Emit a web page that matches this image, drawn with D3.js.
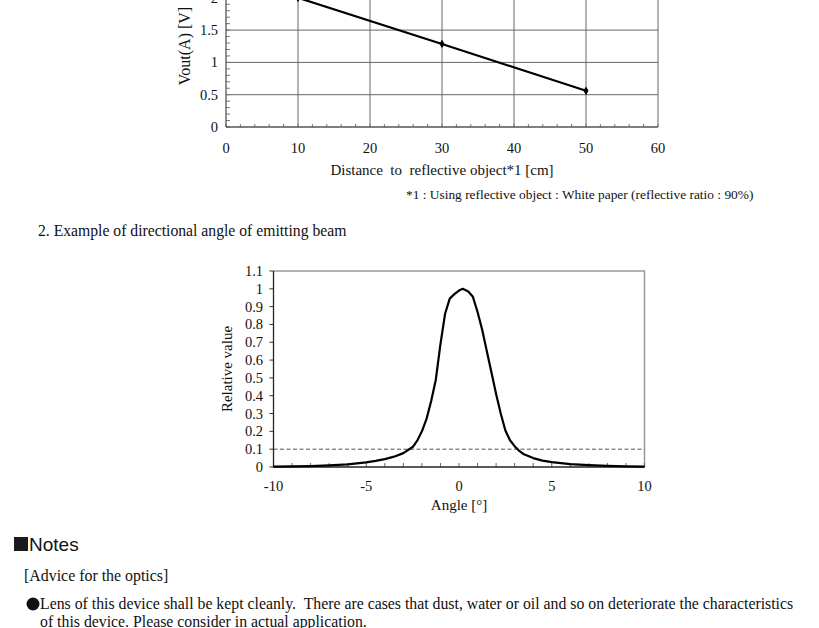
<!DOCTYPE html>
<html><head><meta charset="utf-8">
<script src="https://cdn.jsdelivr.net/npm/d3@7"></script>
<style>
html,body{margin:0;padding:0;background:#fff;}
svg{display:block;}
text{font-family:"Liberation Serif","Times New Roman",serif;fill:#111;}
</style></head>
<body>
<svg id="c" width="819" height="628"></svg>
<script>
// ---- Chart 1 data: distance vs Vout(A)
const distance = [10, 30, 50];
const vout = [2.0, 1.285, 0.56];
const distTicks = [0, 10, 20, 30, 40, 50, 60];
const voutTicks = [0, 0.5, 1, 1.5, 2];
const voutTickLabels = ["0", "0.5", "1", "1.5", "2"];

// ---- Chart 2 data: angle vs relative value
const angle = [-10, -9, -8, -7, -6, -5, -4.5, -4, -3.5, -3, -2.5, -2.25, -2, -1.75, -1.5, -1.25, -1, -0.75, -0.5, -0.25, 0, 0.2, 0.5, 0.75, 1, 1.25, 1.5, 1.75, 2, 2.25, 2.5, 2.75, 3, 3.25, 3.5, 4, 4.5, 5, 6, 7, 8, 9, 10];
const relValue = [0.002, 0.003, 0.005, 0.009, 0.015, 0.026, 0.034, 0.044, 0.058, 0.078, 0.112, 0.148, 0.2, 0.27, 0.37, 0.49, 0.69, 0.86, 0.945, 0.97, 0.99, 1.0, 0.985, 0.955, 0.87, 0.77, 0.65, 0.53, 0.41, 0.3, 0.205, 0.15, 0.117, 0.09, 0.071, 0.05, 0.036, 0.027, 0.016, 0.01, 0.006, 0.004, 0.002];
const angleTicks = [-10, -5, 0, 5, 10];
const relTicks = [0, 0.1, 0.2, 0.3, 0.4, 0.5, 0.6, 0.7, 0.8, 0.9, 1, 1.1];
const threshold = 0.1;

const svg = d3.select("#c");

// ================= Chart 1 =================
{
  const x = d3.scaleLinear().domain([0, 60]).range([226, 658]);
  const y = d3.scaleLinear().domain([0, 0.5]).range([127, 94.7]);
  const g = svg.append("g");
  const top = y(2.6);
  g.selectAll(".vg").data(distTicks.filter(d => d > 0)).enter().append("line")
    .attr("x1", d => x(d)).attr("x2", d => x(d)).attr("y1", top).attr("y2", y(0))
    .attr("stroke", "#666").attr("stroke-width", 1);
  g.selectAll(".hg").data(voutTicks.filter(d => d > 0)).enter().append("line")
    .attr("x1", x(0)).attr("x2", x(60)).attr("y1", d => y(d)).attr("y2", d => y(d))
    .attr("stroke", "#666").attr("stroke-width", 1);
  g.selectAll(".mx").data(d3.range(0, 61, 2)).enter().append("line")
    .attr("x1", d => x(d)).attr("x2", d => x(d)).attr("y1", y(0)).attr("y2", y(0) - 3)
    .attr("stroke", "#777").attr("stroke-width", 1);
  g.selectAll(".my").data(d3.range(0, 26).map(i => i / 10)).enter().append("line")
    .attr("x1", x(0)).attr("x2", x(0) + 4).attr("y1", d => y(d)).attr("y2", d => y(d))
    .attr("stroke", "#777").attr("stroke-width", 1);
  g.append("line").attr("x1", x(0)).attr("x2", x(60)).attr("y1", y(0)).attr("y2", y(0))
    .attr("stroke", "#555").attr("stroke-width", 1.3);
  g.append("line").attr("x1", x(0)).attr("x2", x(0)).attr("y1", top).attr("y2", y(0))
    .attr("stroke", "#555").attr("stroke-width", 1.3);
  g.selectAll(".xl").data(distTicks).enter().append("text")
    .attr("x", d => x(d)).attr("y", 153).attr("text-anchor", "middle")
    .style("font-size", "14.5px").text(d => d);
  g.selectAll(".yl").data(voutTicks).enter().append("text")
    .attr("x", 218).attr("y", d => y(d) + 5).attr("text-anchor", "end")
    .style("font-size", "14.5px").text((d, i) => voutTickLabels[i]);
  const pts = distance.map((d, i) => [d, vout[i]]);
  g.append("path").datum(pts)
    .attr("d", d3.line().x(d => x(d[0])).y(d => y(d[1])))
    .attr("fill", "none").attr("stroke", "#000").attr("stroke-width", 2.2);
  g.selectAll(".pt").data(pts).enter().append("path")
    .attr("d", d3.symbol(d3.symbolDiamond, 22))
    .attr("transform", d => `translate(${x(d[0])},${y(d[1])})`)
    .attr("fill", "#000");
  g.append("text").attr("transform", "translate(190,46) rotate(-90)")
    .attr("text-anchor", "middle").style("font-size", "16px").text("Vout(A) [V]");
  g.append("text").attr("x", 442).attr("y", 175).attr("text-anchor", "middle")
    .style("font-size", "15px").style("white-space", "pre")
    .text("Distance  to  reflective object*1 [cm]");
  g.append("text").attr("x", 406).attr("y", 199)
    .style("font-size", "13.4px").text("*1 : Using reflective object : White paper (reflective ratio : 90%)");
}

svg.append("text").attr("x", 38).attr("y", 236).style("font-size", "15.7px")
  .text("2. Example of directional angle of emitting beam");

// ================= Chart 2 =================
{
  const x = d3.scaleLinear().domain([-10, 10]).range([273.5, 644.5]);
  const y = d3.scaleLinear().domain([0, 1.1]).range([467, 271]);
  const g = svg.append("g");
  g.append("path")
    .attr("d", `M${x(-10)},${y(1.1)}H${x(10)}V${y(0)}`)
    .attr("fill", "none").attr("stroke", "#999").attr("stroke-width", 1.5);
  g.append("line").attr("x1", x(-10)).attr("x2", x(10)).attr("y1", y(threshold)).attr("y2", y(threshold))
    .attr("stroke", "#555").attr("stroke-width", 1).attr("stroke-dasharray", "4,2.5");
  g.selectAll(".mx").data(d3.range(-10, 11, 1)).enter().append("line")
    .attr("x1", d => x(d)).attr("x2", d => x(d)).attr("y1", y(0)).attr("y2", y(0) - 4)
    .attr("stroke", "#666").attr("stroke-width", 1);
  g.selectAll(".yt").data(relTicks).enter().append("line")
    .attr("x1", x(-10) - 4).attr("x2", x(-10)).attr("y1", d => y(d)).attr("y2", d => y(d))
    .attr("stroke", "#333").attr("stroke-width", 1);
  g.append("line").attr("x1", x(-10)).attr("x2", x(-10)).attr("y1", y(1.1)).attr("y2", y(0))
    .attr("stroke", "#222").attr("stroke-width", 1.3);
  g.append("line").attr("x1", x(-10)).attr("x2", x(10)).attr("y1", y(0)).attr("y2", y(0))
    .attr("stroke", "#222").attr("stroke-width", 1.5);
  g.selectAll(".yl").data(relTicks).enter().append("text")
    .attr("x", 263).attr("y", d => y(d) + 5).attr("text-anchor", "end")
    .style("font-size", "14.5px").text(d => d3.format("~g")(d));
  g.selectAll(".xl").data(angleTicks).enter().append("text")
    .attr("x", d => x(d)).attr("y", 491).attr("text-anchor", "middle")
    .style("font-size", "14.5px").text(d => d);
  const pts = angle.map((a, i) => [a, relValue[i]]);
  g.append("path").datum(pts)
    .attr("d", d3.line().x(d => x(d[0])).y(d => y(d[1])))
    .attr("fill", "none").attr("stroke", "#000").attr("stroke-width", 2.2)
    .attr("stroke-linejoin", "round");
  g.append("text").attr("transform", "translate(232,369) rotate(-90)")
    .attr("text-anchor", "middle").style("font-size", "15px").text("Relative value");
  g.append("text").attr("x", 459).attr("y", 510).attr("text-anchor", "middle")
    .style("font-size", "15px").text("Angle [°]");
}

// ================= Notes =================
svg.append("rect").attr("x", 14).attr("y", 537).attr("width", 14).attr("height", 14).attr("fill", "#1a1a1a");
svg.append("text").attr("x", 29).attr("y", 551)
  .style("font-family", "'Liberation Sans Narrow','Liberation Sans',Arial,sans-serif")
  .style("font-size", "19px").text("Notes");
svg.append("text").attr("x", 24).attr("y", 581).style("font-size", "15.9px").text("[Advice for the optics]");
svg.append("circle").attr("cx", 33).attr("cy", 604).attr("r", 6.5).attr("fill", "#111");
svg.append("text").attr("x", 40).attr("y", 609).style("font-size", "15.8px").style("white-space", "pre")
  .text("Lens of this device shall be kept cleanly.  There are cases that dust, water or oil and so on deteriorate the characteristics");
svg.append("text").attr("x", 40).attr("y", 627).style("font-size", "15.8px")
  .text("of this device. Please consider in actual application.");
</script>
</body></html>
